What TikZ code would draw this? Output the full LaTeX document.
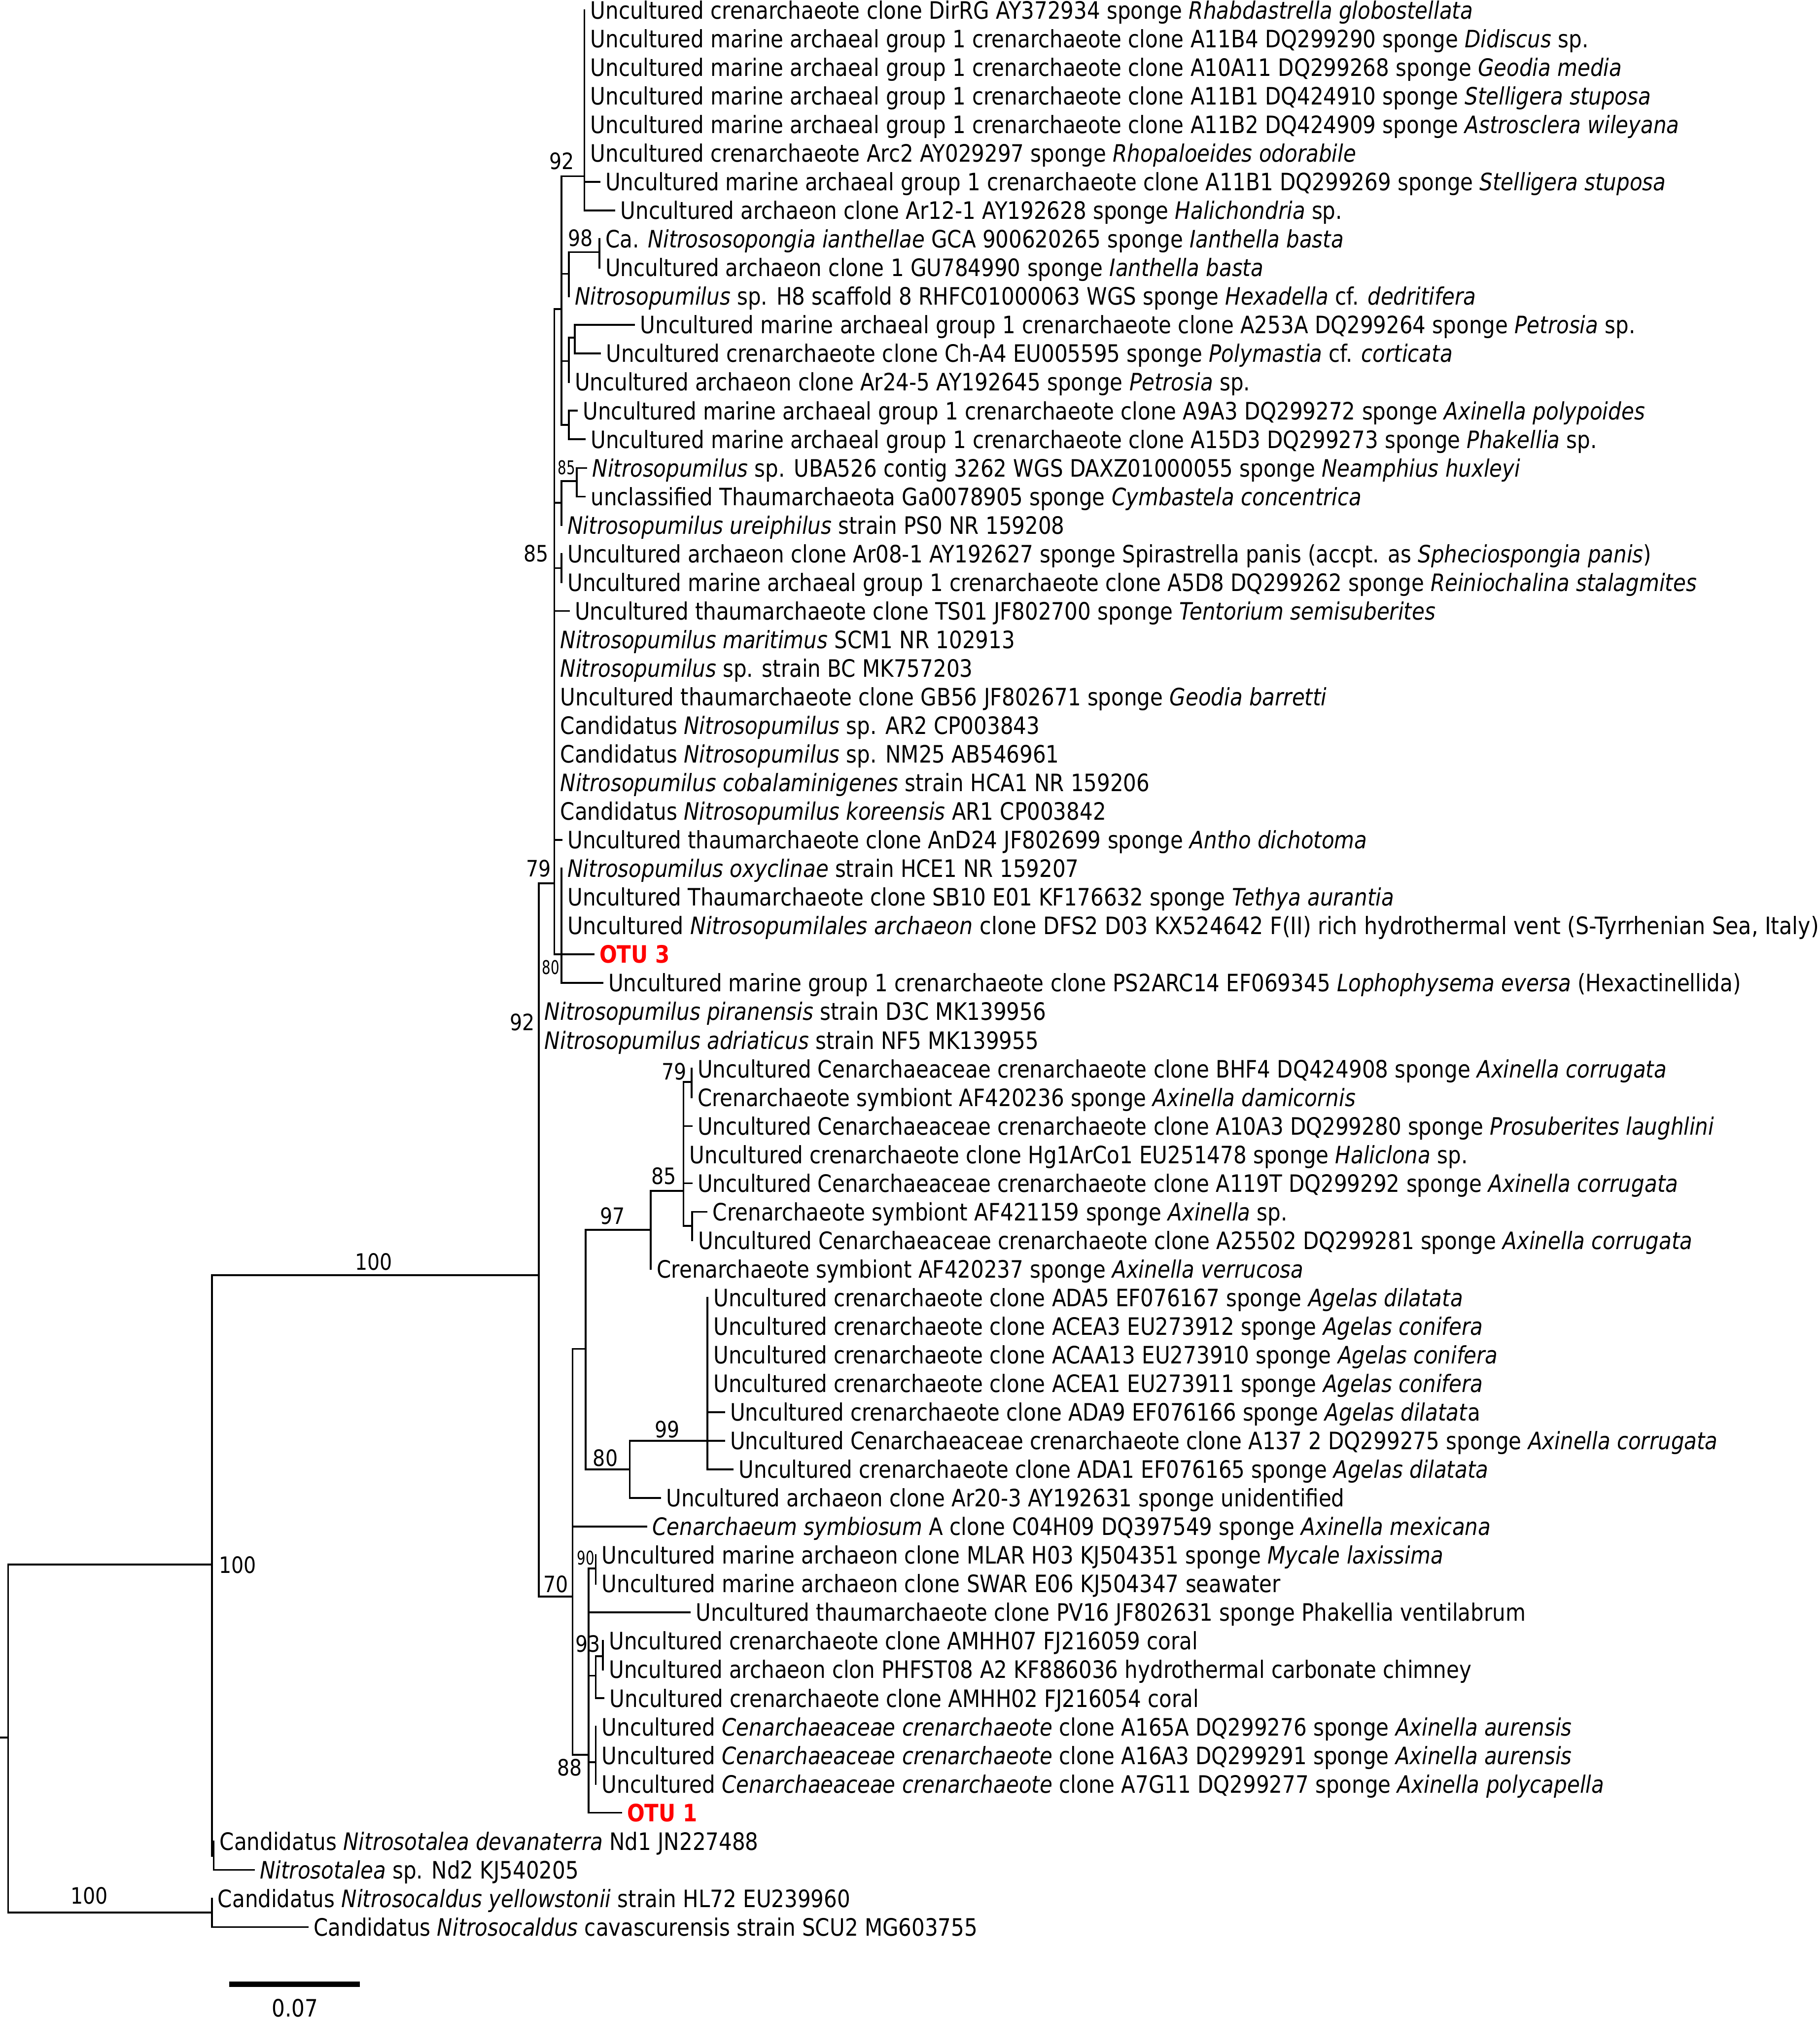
\documentclass[tikz,border=0pt]{standalone}
\usepackage{fontspec}
\setmainfont{DejaVu Sans}[FakeStretch=0.864]
\newfontfamily\smallnumfont{DejaVu Sans}[FakeStretch=0.72]
\definecolor{otured}{RGB}{255,0,0}
\newcommand\LY[1]{7.9+(#1-1)*22.22}
\newcommand\leaffont{\fontsize{18.6pt}{20pt}\selectfont}
\newcommand\bootfont{\fontsize{17.5pt}{19pt}\selectfont}
\newcommand\sbootfont{\smallnumfont\fontsize{14.7pt}{16pt}\selectfont}
\tikzset{
  br/.style={line width=1.4pt, line cap=rect},
  leaf/.style={anchor=base west, inner sep=0pt, xshift=4.5pt, yshift=-6.8pt, font=\leaffont},
  otu/.style={leaf, font=\leaffont\bfseries, text=otured},
  boot/.style={anchor=center, inner sep=0pt, font=\bootfont},
  sboot/.style={anchor=center, inner sep=0pt, font=\sbootfont},
  scalebar/.style={line width=4pt},
}
\begin{document}
\begin{tikzpicture}[x=1pt,y=-1pt]
\useasboundingbox (0,0) rectangle (1413,1568);
% ---------- internal nodes ----------
\coordinate (Rstub) at (0,1349.5);
\coordinate (R) at (6.3,1349.5);
\coordinate (N100a) at (164.5,1215);
\coordinate (Ncal) at (164.5,1485.2);
\coordinate (Ntal) at (166,1441.3);
\coordinate (N100b) at (418.3,990.3);
\coordinate (N79a) at (430.5,685.9);
\coordinate (N92a) at (436.1,239.9);
\coordinate (N92top) at (453.8,136.8);
\coordinate (N98g) at (441.7,212.7);
\coordinate (N98) at (465.4,195.8);
\coordinate (Ng1) at (441.7,280.4);
\coordinate (Nsub) at (446.3,262.2);
\coordinate (Ng2) at (441.7,329.9);
\coordinate (N17g) at (436.1,390.5);
\coordinate (N85s) at (448,373.6);
\coordinate (N85b) at (436.1,441.2);
\coordinate (N80a) at (436.1,{\LY{34}});
\coordinate (N70) at (444.6,1239.9);
\coordinate (N97) at (454.7,1047.6);
\coordinate (N85c) at (505.4,955.1);
\coordinate (N85d) at (530.8,924.9);
\coordinate (N79b) at (537.0,840.3);
\coordinate (Nx) at (537.5,952);
\coordinate (N80b) at (489.1,1141.2);
\coordinate (N99) at (549.4,1118.9);
\coordinate (N88) at (457.0,1362.9);
\coordinate (N90) at (462.6,1218);
\coordinate (N93a) at (462.6,1301.4);
\coordinate (N93) at (468.2,1286.3);
\coordinate (Nc) at (462.6,1368.5);
% ---------- leaf tips ----------
\coordinate (T1) at (453.8,{\LY{1}});
\coordinate (T2) at (453.8,{\LY{2}});
\coordinate (T3) at (453.8,{\LY{3}});
\coordinate (T4) at (453.8,{\LY{4}});
\coordinate (T5) at (453.8,{\LY{5}});
\coordinate (T6) at (453.8,{\LY{6}});
\coordinate (T7) at (465.4,{\LY{7}});
\coordinate (T8) at (477.2,{\LY{8}});
\coordinate (T9) at (465.4,{\LY{9}});
\coordinate (T10) at (465.4,{\LY{10}});
\coordinate (T11) at (441.7,{\LY{11}});
\coordinate (T12) at (492.5,{\LY{12}});
\coordinate (T13) at (466.0,{\LY{13}});
\coordinate (T14) at (441.7,{\LY{14}});
\coordinate (T15) at (448.0,{\LY{15}});
\coordinate (T16) at (454.1,{\LY{16}});
\coordinate (T17) at (455.3,{\LY{17}});
\coordinate (T18) at (454.1,{\LY{18}});
\coordinate (T19) at (436.1,{\LY{19}});
\coordinate (T20) at (436.1,{\LY{20}});
\coordinate (T21) at (436.1,{\LY{21}});
\coordinate (T22) at (441.7,{\LY{22}});
\coordinate (T23) at (430.5,{\LY{23}});
\coordinate (T24) at (430.5,{\LY{24}});
\coordinate (T25) at (430.5,{\LY{25}});
\coordinate (T26) at (430.5,{\LY{26}});
\coordinate (T27) at (430.5,{\LY{27}});
\coordinate (T28) at (430.5,{\LY{28}});
\coordinate (T29) at (430.5,{\LY{29}});
\coordinate (T30) at (436.1,{\LY{30}});
\coordinate (T31) at (436.1,{\LY{31}});
\coordinate (T32) at (436.1,{\LY{32}});
\coordinate (T33) at (436.1,{\LY{33}});
\coordinate (T34) at (460.9,{\LY{34}});
\coordinate (T35) at (467.7,{\LY{35}});
\coordinate (T36) at (418.3,{\LY{36}});
\coordinate (T37) at (418.3,{\LY{37}});
\coordinate (T38) at (537.0,{\LY{38}});
\coordinate (T39) at (537.0,{\LY{39}});
\coordinate (T40) at (537.0,{\LY{40}});
\coordinate (T41) at (530.8,{\LY{41}});
\coordinate (T42) at (537.0,{\LY{42}});
\coordinate (T43) at (548.8,{\LY{43}});
\coordinate (T44) at (537.5,{\LY{44}});
\coordinate (T45) at (505.4,{\LY{45}});
\coordinate (T46) at (549.4,{\LY{46}});
\coordinate (T47) at (549.4,{\LY{47}});
\coordinate (T48) at (549.4,{\LY{48}});
\coordinate (T49) at (549.4,{\LY{49}});
\coordinate (T50) at (562.3,{\LY{50}});
\coordinate (T51) at (562.3,{\LY{51}});
\coordinate (T52) at (569.1,{\LY{52}});
\coordinate (T53) at (512.7,{\LY{53}});
\coordinate (T54) at (502.0,{\LY{54}});
\coordinate (T55) at (462.6,{\LY{55}});
\coordinate (T56) at (462.6,{\LY{56}});
\coordinate (T57) at (535.8,{\LY{57}});
\coordinate (T58) at (468.2,{\LY{58}});
\coordinate (T59) at (468.2,{\LY{59}});
\coordinate (T60) at (468.8,{\LY{60}});
\coordinate (T61) at (462.6,{\LY{61}});
\coordinate (T62) at (462.6,{\LY{62}});
\coordinate (T63) at (462.6,{\LY{63}});
\coordinate (T64) at (482.3,{\LY{64}});
\coordinate (T65) at (166.0,{\LY{65}});
\coordinate (T66) at (197.2,{\LY{66}});
\coordinate (T67) at (164.5,{\LY{67}});
\coordinate (T68) at (238.9,{\LY{68}});
% ---------- branches ----------
\draw[br] (Rstub) -- (R);
\draw[br] (R) |- (N100a);
\draw[br] (R) |- (Ncal);
\draw[br] (N100a) |- (N100b);
\draw[br] (N100a) |- (Ntal);
\draw[br] (Ntal) |- (T65);
\draw[br] (Ntal) |- (T66);
\draw[br] (Ncal) |- (T67);
\draw[br] (Ncal) |- (T68);
\draw[br] (N100b) |- (N79a);
\draw[br] (N100b) |- (T36);
\draw[br] (N100b) |- (T37);
\draw[br] (N100b) |- (N70);
\draw[br] (N79a) |- (N92a);
\draw[br] (N79a) |- (N17g);
\draw[br] (N79a) |- (N85b);
\draw[br] (N79a) |- (T22);
\draw[br] (N79a) |- (T23);
\draw[br] (N79a) |- (T24);
\draw[br] (N79a) |- (T25);
\draw[br] (N79a) |- (T26);
\draw[br] (N79a) |- (T27);
\draw[br] (N79a) |- (T28);
\draw[br] (N79a) |- (T29);
\draw[br] (N79a) |- (T30);
\draw[br] (N79a) |- (N80a);
\draw[br] (N92a) |- (N92top);
\draw[br] (N92a) |- (N98g);
\draw[br] (N92a) |- (Ng1);
\draw[br] (N92a) |- (Ng2);
\draw[br] (N92top) |- (T1);
\draw[br] (N92top) |- (T2);
\draw[br] (N92top) |- (T3);
\draw[br] (N92top) |- (T4);
\draw[br] (N92top) |- (T5);
\draw[br] (N92top) |- (T6);
\draw[br] (N92top) |- (T7);
\draw[br] (N92top) |- (T8);
\draw[br] (N98g) |- (N98);
\draw[br] (N98g) |- (T11);
\draw[br] (N98) |- (T9);
\draw[br] (N98) |- (T10);
\draw[br] (Ng1) |- (Nsub);
\draw[br] (Ng1) |- (T14);
\draw[br] (Nsub) |- (T12);
\draw[br] (Nsub) |- (T13);
\draw[br] (Ng2) |- (T15);
\draw[br] (Ng2) |- (T16);
\draw[br] (N17g) |- (N85s);
\draw[br] (N17g) |- (T19);
\draw[br] (N85s) |- (T17);
\draw[br] (N85s) |- (T18);
\draw[br] (N85b) |- (T20);
\draw[br] (N85b) |- (T21);
\draw[br] (N80a) |- (T31);
\draw[br] (N80a) |- (T32);
\draw[br] (N80a) |- (T33);
\draw[br] (N80a) |- (T34);
\draw[br] (N80a) |- (T35);
\draw[br] (N70) |- (N97);
\draw[br] (N70) |- (T54);
\draw[br] (N70) |- (N88);
\draw[br] (N97) |- (N85c);
\draw[br] (N97) |- (N80b);
\draw[br] (N85c) |- (N85d);
\draw[br] (N85c) |- (T45);
\draw[br] (N85d) |- (N79b);
\draw[br] (N85d) |- (T40);
\draw[br] (N85d) |- (T41);
\draw[br] (N85d) |- (T42);
\draw[br] (N85d) |- (Nx);
\draw[br] (N79b) |- (T38);
\draw[br] (N79b) |- (T39);
\draw[br] (Nx) |- (T43);
\draw[br] (Nx) |- (T44);
\draw[br] (N80b) |- (N99);
\draw[br] (N80b) |- (T53);
\draw[br] (N99) |- (T46);
\draw[br] (N99) |- (T47);
\draw[br] (N99) |- (T48);
\draw[br] (N99) |- (T49);
\draw[br] (N99) |- (T50);
\draw[br] (N99) |- (T51);
\draw[br] (N99) |- (T52);
\draw[br] (N88) |- (N90);
\draw[br] (N88) |- (T57);
\draw[br] (N88) |- (N93a);
\draw[br] (N88) |- (Nc);
\draw[br] (N88) |- (T64);
\draw[br] (N90) |- (T55);
\draw[br] (N90) |- (T56);
\draw[br] (N93a) |- (N93);
\draw[br] (N93a) |- (T60);
\draw[br] (N93) |- (T58);
\draw[br] (N93) |- (T59);
\draw[br] (Nc) |- (T61);
\draw[br] (Nc) |- (T62);
\draw[br] (Nc) |- (T63);
% ---------- leaf labels ----------
\node[leaf] (L1) at (T1) {Uncultured crenarchaeote clone DirRG AY372934 sponge \textit{Rhabdastrella globostellata}};
\node[leaf] (L2) at (T2) {Uncultured marine archaeal group 1 crenarchaeote clone A11B4 DQ299290 sponge \textit{Didiscus} sp.};
\node[leaf] (L3) at (T3) {Uncultured marine archaeal group 1 crenarchaeote clone A10A11 DQ299268 sponge \textit{Geodia media}};
\node[leaf] (L4) at (T4) {Uncultured marine archaeal group 1 crenarchaeote clone A11B1 DQ424910 sponge \textit{Stelligera stuposa}};
\node[leaf] (L5) at (T5) {Uncultured marine archaeal group 1 crenarchaeote clone A11B2 DQ424909 sponge \textit{Astrosclera wileyana}};
\node[leaf] (L6) at (T6) {Uncultured crenarchaeote Arc2 AY029297 sponge \textit{Rhopaloeides odorabile}};
\node[leaf] (L7) at (T7) {Uncultured marine archaeal group 1 crenarchaeote clone A11B1 DQ299269 sponge \textit{Stelligera stuposa}};
\node[leaf] (L8) at (T8) {Uncultured archaeon clone Ar12-1 AY192628 sponge \textit{Halichondria} sp.};
\node[leaf] (L9) at (T9) {Ca. \textit{Nitrososopongia ianthellae} GCA 900620265 sponge \textit{Ianthella basta}};
\node[leaf] (L10) at (T10) {Uncultured archaeon clone 1 GU784990 sponge \textit{Ianthella basta}};
\node[leaf] (L11) at (T11) {\textit{Nitrosopumilus} sp. H8 scaffold 8 RHFC01000063 WGS sponge \textit{Hexadella} cf. \textit{dedritifera}};
\node[leaf] (L12) at (T12) {Uncultured marine archaeal group 1 crenarchaeote clone A253A DQ299264 sponge \textit{Petrosia} sp.};
\node[leaf] (L13) at (T13) {Uncultured crenarchaeote clone Ch-A4 EU005595 sponge \textit{Polymastia} cf. \textit{corticata}};
\node[leaf] (L14) at (T14) {Uncultured archaeon clone Ar24-5 AY192645 sponge \textit{Petrosia} sp.};
\node[leaf] (L15) at (T15) {Uncultured marine archaeal group 1 crenarchaeote clone A9A3 DQ299272 sponge \textit{Axinella polypoides}};
\node[leaf] (L16) at (T16) {Uncultured marine archaeal group 1 crenarchaeote clone A15D3 DQ299273 sponge \textit{Phakellia} sp.};
\node[leaf] (L17) at (T17) {\textit{Nitrosopumilus} sp. UBA526 contig 3262 WGS DAXZ01000055 sponge \textit{Neamphius huxleyi}};
\node[leaf] (L18) at (T18) {unclassified Thaumarchaeota Ga0078905 sponge \textit{Cymbastela concentrica}};
\node[leaf] (L19) at (T19) {\textit{Nitrosopumilus ureiphilus} strain PS0 NR 159208};
\node[leaf] (L20) at (T20) {Uncultured archaeon clone Ar08-1 AY192627 sponge Spirastrella panis (accpt. as \textit{Spheciospongia panis})};
\node[leaf] (L21) at (T21) {Uncultured marine archaeal group 1 crenarchaeote clone A5D8 DQ299262 sponge \textit{Reiniochalina stalagmites}};
\node[leaf] (L22) at (T22) {Uncultured thaumarchaeote clone TS01 JF802700 sponge \textit{Tentorium semisuberites}};
\node[leaf] (L23) at (T23) {\textit{Nitrosopumilus maritimus} SCM1 NR 102913};
\node[leaf] (L24) at (T24) {\textit{Nitrosopumilus} sp. strain BC MK757203};
\node[leaf] (L25) at (T25) {Uncultured thaumarchaeote clone GB56 JF802671 sponge \textit{Geodia barretti}};
\node[leaf] (L26) at (T26) {Candidatus \textit{Nitrosopumilus} sp. AR2 CP003843};
\node[leaf] (L27) at (T27) {Candidatus \textit{Nitrosopumilus} sp. NM25 AB546961};
\node[leaf] (L28) at (T28) {\textit{Nitrosopumilus cobalaminigenes} strain HCA1 NR 159206};
\node[leaf] (L29) at (T29) {Candidatus \textit{Nitrosopumilus koreensis} AR1 CP003842};
\node[leaf] (L30) at (T30) {Uncultured thaumarchaeote clone AnD24 JF802699 sponge \textit{Antho dichotoma}};
\node[leaf] (L31) at (T31) {\textit{Nitrosopumilus oxyclinae} strain HCE1 NR 159207};
\node[leaf] (L32) at (T32) {Uncultured Thaumarchaeote clone SB10 E01 KF176632 sponge \textit{Tethya aurantia}};
\node[leaf] (L33) at (T33) {\scalebox{1.02}[1]{Uncultured \textit{Nitrosopumilales archaeon} clone DFS2 D03 KX524642 F(II) rich hydrothermal vent (S-Tyrrhenian Sea, Italy)}};
\node[otu] (L34) at (T34) {OTU 3};
\node[leaf] (L35) at (T35) {Uncultured marine group 1 crenarchaeote clone PS2ARC14 EF069345 \textit{Lophophysema eversa} (Hexactinellida)};
\node[leaf] (L36) at (T36) {\textit{Nitrosopumilus piranensis} strain D3C MK139956};
\node[leaf] (L37) at (T37) {\textit{Nitrosopumilus adriaticus} strain NF5 MK139955};
\node[leaf] (L38) at (T38) {Uncultured Cenarchaeaceae crenarchaeote clone BHF4 DQ424908 sponge \textit{Axinella corrugata}};
\node[leaf] (L39) at (T39) {Crenarchaeote symbiont AF420236 sponge \textit{Axinella damicornis}};
\node[leaf] (L40) at (T40) {Uncultured Cenarchaeaceae crenarchaeote clone A10A3 DQ299280 sponge \textit{Prosuberites laughlini}};
\node[leaf] (L41) at (T41) {Uncultured crenarchaeote clone Hg1ArCo1 EU251478 sponge \textit{Haliclona} sp.};
\node[leaf] (L42) at (T42) {Uncultured Cenarchaeaceae crenarchaeote clone A119T DQ299292 sponge \textit{Axinella corrugata}};
\node[leaf] (L43) at (T43) {Crenarchaeote symbiont AF421159 sponge \textit{Axinella} sp.};
\node[leaf] (L44) at (T44) {Uncultured Cenarchaeaceae crenarchaeote clone A25502 DQ299281 sponge \textit{Axinella corrugata}};
\node[leaf] (L45) at (T45) {Crenarchaeote symbiont AF420237 sponge \textit{Axinella verrucosa}};
\node[leaf] (L46) at (T46) {Uncultured crenarchaeote clone ADA5 EF076167 sponge \textit{Agelas dilatata}};
\node[leaf] (L47) at (T47) {Uncultured crenarchaeote clone ACEA3 EU273912 sponge \textit{Agelas conifera}};
\node[leaf] (L48) at (T48) {Uncultured crenarchaeote clone ACAA13 EU273910 sponge \textit{Agelas conifera}};
\node[leaf] (L49) at (T49) {Uncultured crenarchaeote clone ACEA1 EU273911 sponge \textit{Agelas conifera}};
\node[leaf] (L50) at (T50) {Uncultured crenarchaeote clone ADA9 EF076166 sponge \textit{Agelas dilatat}a};
\node[leaf] (L51) at (T51) {Uncultured Cenarchaeaceae crenarchaeote clone A137 2 DQ299275 sponge \textit{Axinella corrugata}};
\node[leaf] (L52) at (T52) {Uncultured crenarchaeote clone ADA1 EF076165 sponge \textit{Agelas dilatata}};
\node[leaf] (L53) at (T53) {Uncultured archaeon clone Ar20-3 AY192631 sponge unidentified};
\node[leaf] (L54) at (T54) {\textit{Cenarchaeum symbiosum} A clone C04H09 DQ397549 sponge \textit{Axinella mexicana}};
\node[leaf] (L55) at (T55) {Uncultured marine archaeon clone MLAR H03 KJ504351 sponge \textit{Mycale laxissima}};
\node[leaf] (L56) at (T56) {Uncultured marine archaeon clone SWAR E06 KJ504347 seawater};
\node[leaf] (L57) at (T57) {Uncultured thaumarchaeote clone PV16 JF802631 sponge Phakellia ventilabrum};
\node[leaf] (L58) at (T58) {Uncultured crenarchaeote clone AMHH07 FJ216059 coral};
\node[leaf] (L59) at (T59) {Uncultured archaeon clon PHFST08 A2 KF886036 hydrothermal carbonate chimney};
\node[leaf] (L60) at (T60) {Uncultured crenarchaeote clone AMHH02 FJ216054 coral};
\node[leaf] (L61) at (T61) {Uncultured \textit{Cenarchaeaceae crenarchaeote} clone A165A DQ299276 sponge \textit{Axinella aurensis}};
\node[leaf] (L62) at (T62) {Uncultured \textit{Cenarchaeaceae crenarchaeote} clone A16A3 DQ299291 sponge \textit{Axinella aurensis}};
\node[leaf] (L63) at (T63) {Uncultured \textit{Cenarchaeaceae crenarchaeote} clone A7G11 DQ299277 sponge \textit{Axinella polycapella}};
\node[otu] (L64) at (T64) {OTU 1};
\node[leaf] (L65) at (T65) {Candidatus \textit{Nitrosotalea devanaterra} Nd1 JN227488};
\node[leaf] (L66) at (T66) {\textit{Nitrosotalea} sp. Nd2 KJ540205};
\node[leaf] (L67) at (T67) {Candidatus \textit{Nitrosocaldus yellowstonii} strain HL72 EU239960};
\node[leaf] (L68) at (T68) {Candidatus \textit{Nitrosocaldus} cavascurensis strain SCU2 MG603755};
% ---------- bootstrap values ----------
\node[boot] (b92a) at (436.1,125.0) {92};
\node[boot] (b98) at (450.8,185) {98};
\node[sboot] (b85s) at (440,363) {85};
\node[boot] (b85b) at (416.4,429.7) {85};
\node[boot] (b79a) at (418.4,674.5) {79};
\node[sboot] (b80a) at (427.7,751.3) {80};
\node[boot] (b92b) at (405.7,793.9) {92};
\node[boot] (b79b) at (523.4,832.1) {79};
\node[boot] (b85c) at (515.6,913.4) {85};
\node[boot] (b97) at (475.8,944.4) {97};
\node[boot] (b100a) at (290.3,979.8) {100};
\node[boot] (b99) at (518.0,1110.1) {99};
\node[boot] (b80b) at (470.1,1132.2) {80};
\node[boot] (b100b) at (184.6,1215.5) {100};
\node[sboot] (b90) at (454.9,1209.7) {90};
\node[boot] (b70) at (431.6,1230.1) {70};
\node[boot] (b93) at (456.4,1276.8) {93};
\node[boot] (b88) at (442.3,1372.7) {88};
\node[boot] (b100c) at (69.4,1472.4) {100};
% ---------- scale bar ----------
\coordinate (SB1) at (178.1,1541);
\coordinate (SB2) at (279.5,1541);
\draw[scalebar] (SB1) -- (SB2);
\node[boot, font=\leaffont] (sbl) at (229,1559.5) {0.07};
\end{tikzpicture}
\end{document}
